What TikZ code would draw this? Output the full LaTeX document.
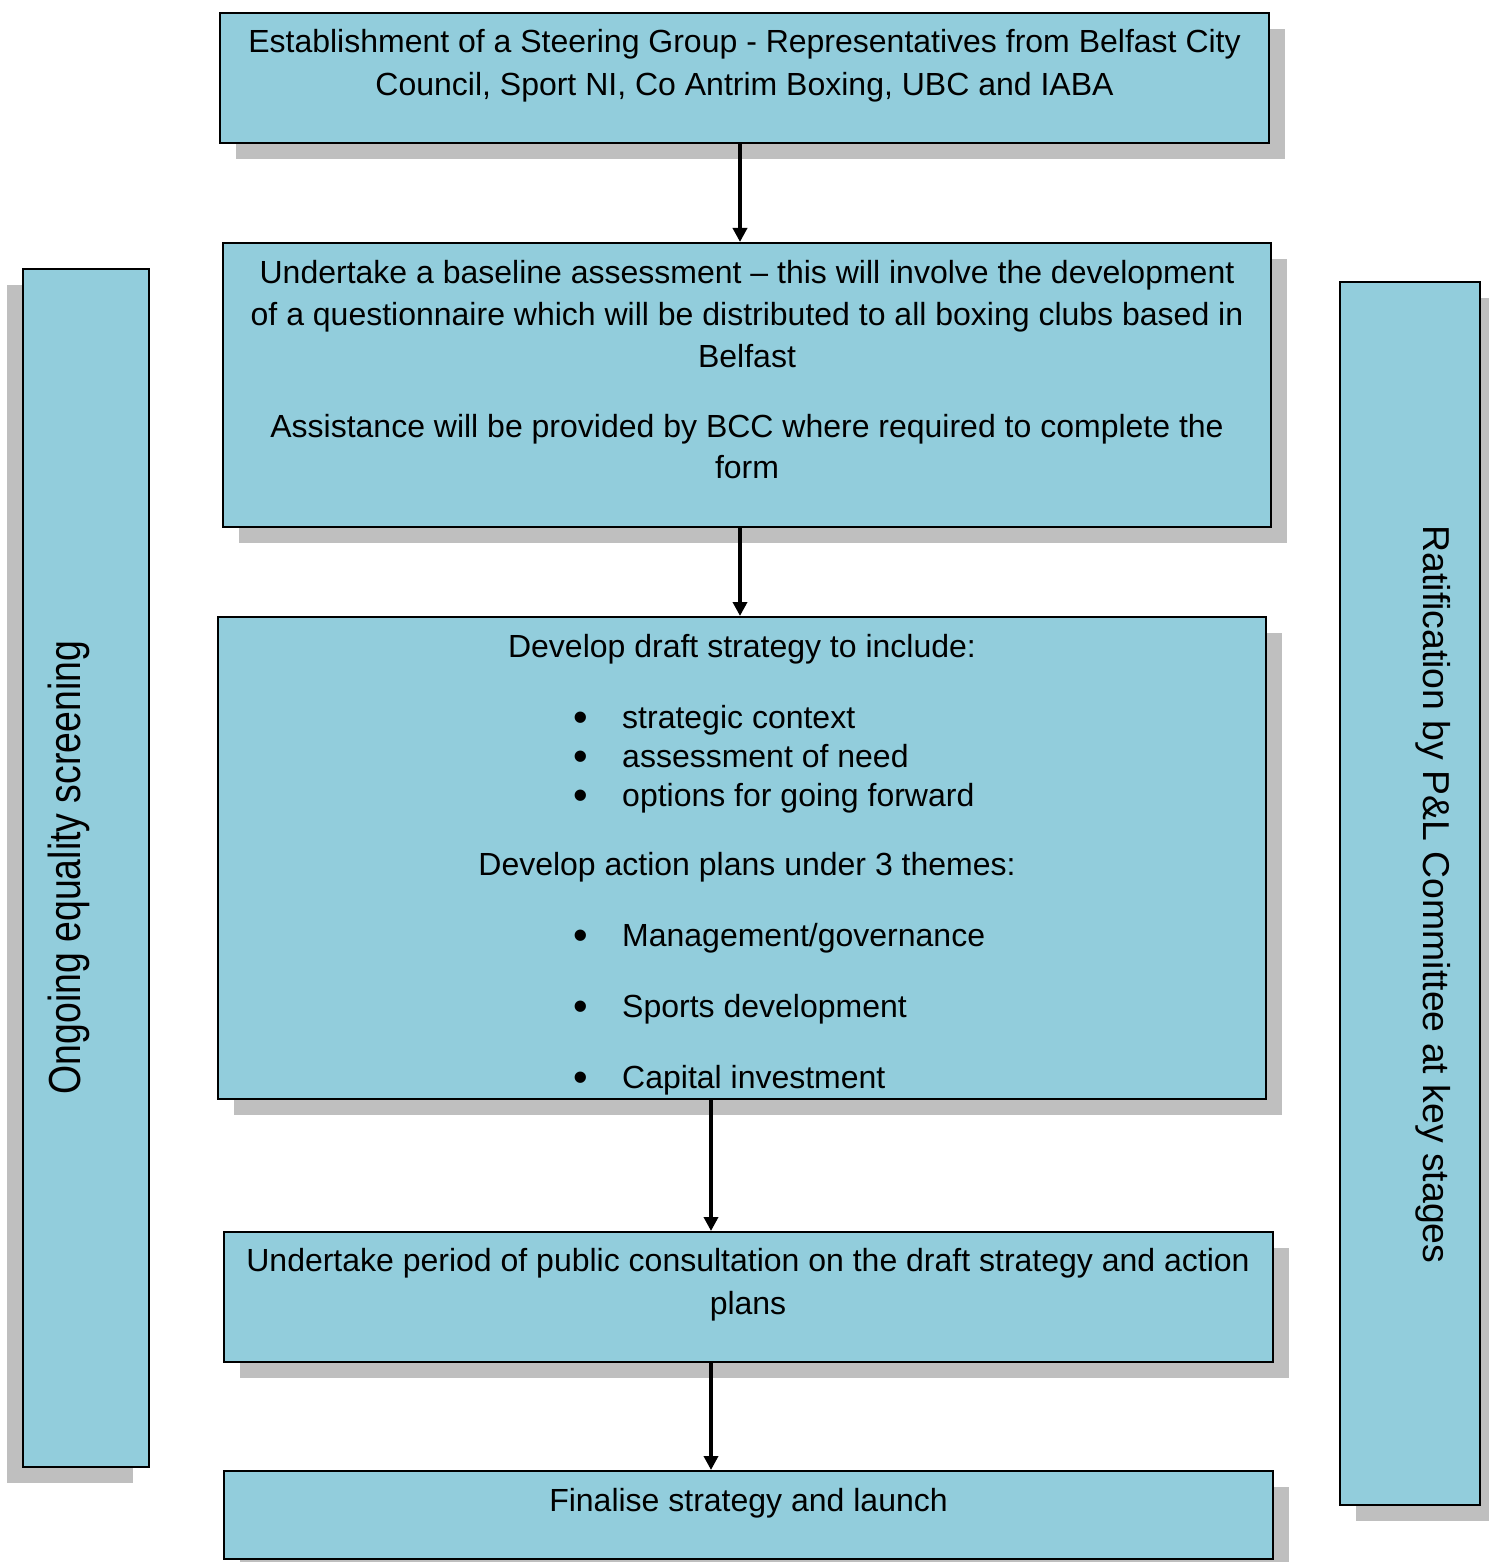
\documentclass[tikz,border=0pt]{standalone}
\usepackage{fontspec}
\setmainfont{Liberation Sans}
\usetikzlibrary{shadows,arrows.meta}

\definecolor{boxblue}{RGB}{146,205,220}
\definecolor{shadowgrey}{RGB}{191,191,191}

\tikzset{
  stage/.style={rectangle,draw=black,line width=2pt,fill=boxblue,inner sep=0pt,
    drop shadow={shadow xshift=#1,shadow yshift=-16pt,fill=shadowgrey,opacity=1}},
  stage/.default=16pt,
  boxtext/.style={inner sep=0pt,anchor=base,font=\fontsize{32}{40}\selectfont},
  sidetext/.style={inner sep=0pt,anchor=base,font=\fontsize{37.4}{44}\selectfont},
  flow/.style={-{Triangle[length=14pt,width=14pt]},line width=4pt}
}
\newcommand{\dotmark}{\raisebox{-3.5pt}{\scalebox{1.3}{\textbullet}}}

\begin{document}
\begin{tikzpicture}[x=1pt,y=-1pt]
    \useasboundingbox (0,0) rectangle (1488,1562);
    %\draw[help lines,step=100] (0,0) grid (1488,1562);
    \node[stage,minimum width=1049pt,minimum height=130pt] at (744.5,78) (steer) {};
    \node[stage,minimum width=1048pt,minimum height=284pt] at (747,385) (baseline) {};
    \node[stage,minimum width=1048pt,minimum height=482pt] at (742,858) (draft) {};
    \node[stage,minimum width=1049pt,minimum height=130pt] at (748.5,1297) (consult) {};
    \node[stage,minimum width=1049pt,minimum height=88pt] at (748.5,1515) (launch) {};
    \node[stage=-16pt,minimum width=126pt,minimum height=1198pt] at (86,868) (equality) {};
    \node[stage,minimum width=140pt,minimum height=1223pt] at (1410,893.5) (ratify) {};

    \node[boxtext] at (744.5,53) (steer1) {Establishment of a Steering Group - Representatives from Belfast City};
    \node[boxtext] at (744.5,96) (steer2) {Council, Sport NI, Co Antrim Boxing, UBC and IABA};

    \node[boxtext] at (747,283) (base1) {Undertake a baseline assessment – this will involve the development};
    \node[boxtext] at (747,325) (base2) {of a questionnaire which will be distributed to all boxing clubs based in};
    \node[boxtext] at (747,367) (base3) {Belfast};
    \node[boxtext] at (747,437) (base4) {Assistance will be provided by BCC where required to complete the};
    \node[boxtext] at (747,478) (base5) {form};

    \node[boxtext] at (742,657) (draft1) {Develop draft strategy to include:};
    \node[boxtext] at (581,728) (b1) {\dotmark};
    \node[boxtext,anchor=base west] at (622,728) (t1) {strategic context};
    \node[boxtext] at (581,767) (b2) {\dotmark};
    \node[boxtext,anchor=base west] at (622,767) (t2) {assessment of need};
    \node[boxtext] at (581,806) (b3) {\dotmark};
    \node[boxtext,anchor=base west] at (622,806) (t3) {options for going forward};
    \node[boxtext] at (747,875) (draft2) {Develop action plans under 3 themes:};
    \node[boxtext] at (581,946) (b4) {\dotmark};
    \node[boxtext,anchor=base west] at (622,946) (t4) {Management/governance};
    \node[boxtext] at (581,1017) (b5) {\dotmark};
    \node[boxtext,anchor=base west] at (622,1017) (t5) {Sports development};
    \node[boxtext] at (581,1088) (b6) {\dotmark};
    \node[boxtext,anchor=base west] at (622,1088) (t6) {Capital investment};

    \node[boxtext] at (748,1271) (consult1) {Undertake period of public consultation on the draft strategy and action};
    \node[boxtext] at (748,1314) (consult2) {plans};

    \node[boxtext] at (748.5,1511) (launch1) {Finalise strategy and launch};

    \node[sidetext,rotate=90] at (80,867.5) (equality1) {\scalebox{1}[1.2]{Ongoing equality screening}};
    \node[sidetext,rotate=-90] at (1423,894.5) (ratify1) {Ratification by P\&L Committee at key stages};

    \draw[flow] ([xshift=-4.5pt]steer.south) -- ([xshift=-7pt]baseline.north);
    \draw[flow] ([xshift=-7pt]baseline.south) -- ([xshift=-2pt]draft.north);
    \draw[flow] ([xshift=-31pt]draft.south) -- ([xshift=-37.5pt]consult.north);
    \draw[flow] ([xshift=-37.5pt]consult.south) -- ([xshift=-37.5pt]launch.north);
\end{tikzpicture}
\end{document}
